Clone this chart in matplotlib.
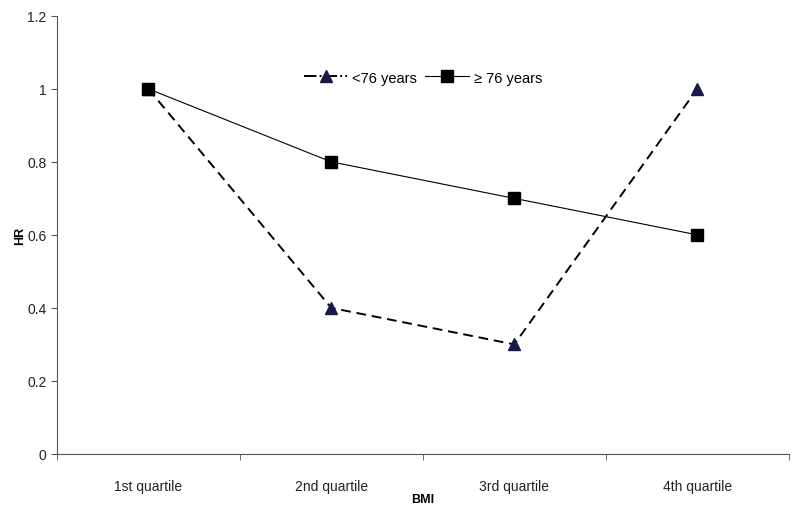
import matplotlib
matplotlib.use("Agg")
import matplotlib.pyplot as plt
from matplotlib.lines import Line2D
import numpy as np

categories = ["1st quartile", "2nd quartile", "3rd quartile", "4th quartile"]
hr_young = [1.0, 0.4, 0.3, 1.0]
hr_old = [1.0, 0.8, 0.7, 0.6]

plt.rcParams["font.family"] = ["Liberation Sans", "DejaVu Sans"]

fig = plt.figure(figsize=(8, 5.1), dpi=100)
ax = fig.add_axes([0.071, 0.108, 0.915, 0.859])
x = np.arange(len(categories))

ax.plot(x, hr_young, "--", color="black", lw=1.4, dashes=(5, 3), marker="^", ms=8,
        mfc="#1a1a4a", mec="#1a1a4a", zorder=2)
ax.plot(x, hr_old, "-", color="black", lw=0.8, marker="s", ms=9, mfc="black", mec="black",
        zorder=3)

ax.set_xlim(-0.5, 3.5)
ax.set_ylim(0, 1.2)
ax.set_yticks([0, 0.2, 0.4, 0.6, 0.8, 1.0, 1.2])
ax.set_yticklabels(["0", "0.2", "0.4", "0.6", "0.8", "1", "1.2"])
ax.set_xticks(x)
ax.set_xticklabels(categories)
ax.set_xticks(np.arange(-0.5, 3.6, 1.0), minor=True)
ax.tick_params(axis="x", which="major", length=0, pad=18, labelsize=10, colors="#222222")
ax.tick_params(axis="x", which="minor", length=4, direction="out", color="#555555")
ax.tick_params(axis="y", length=4, direction="out", labelsize=10, color="#555555", colors="#222222")
for s in ["top", "right"]:
    ax.spines[s].set_visible(False)
for s in ["left", "bottom"]:
    ax.spines[s].set_color("#555555")
    ax.spines[s].set_linewidth(0.8)

ax.set_xlabel("BMI", fontsize=9, fontweight="bold", labelpad=0)
ax.set_ylabel("HR", fontsize=9, fontweight="bold")
ax.yaxis.set_label_coords(-0.042, 0.5)

handles = [
    Line2D([], [], color="black", lw=1.4, linestyle="-.", marker="^", ms=8,
           mfc="#1a1a4a", mec="#1a1a4a"),
    Line2D([], [], color="black", lw=0.8, marker="s", ms=8, mfc="black", mec="black"),
]
ax.legend(handles, ["<76 years", "\u2265 76 years"], loc="upper center",
          bbox_to_anchor=(0.5, 0.905), ncol=2, frameon=False, fontsize=10.5,
          handlelength=3, columnspacing=0.6, handletextpad=0.3)

fig.savefig("out.png", dpi=100)
